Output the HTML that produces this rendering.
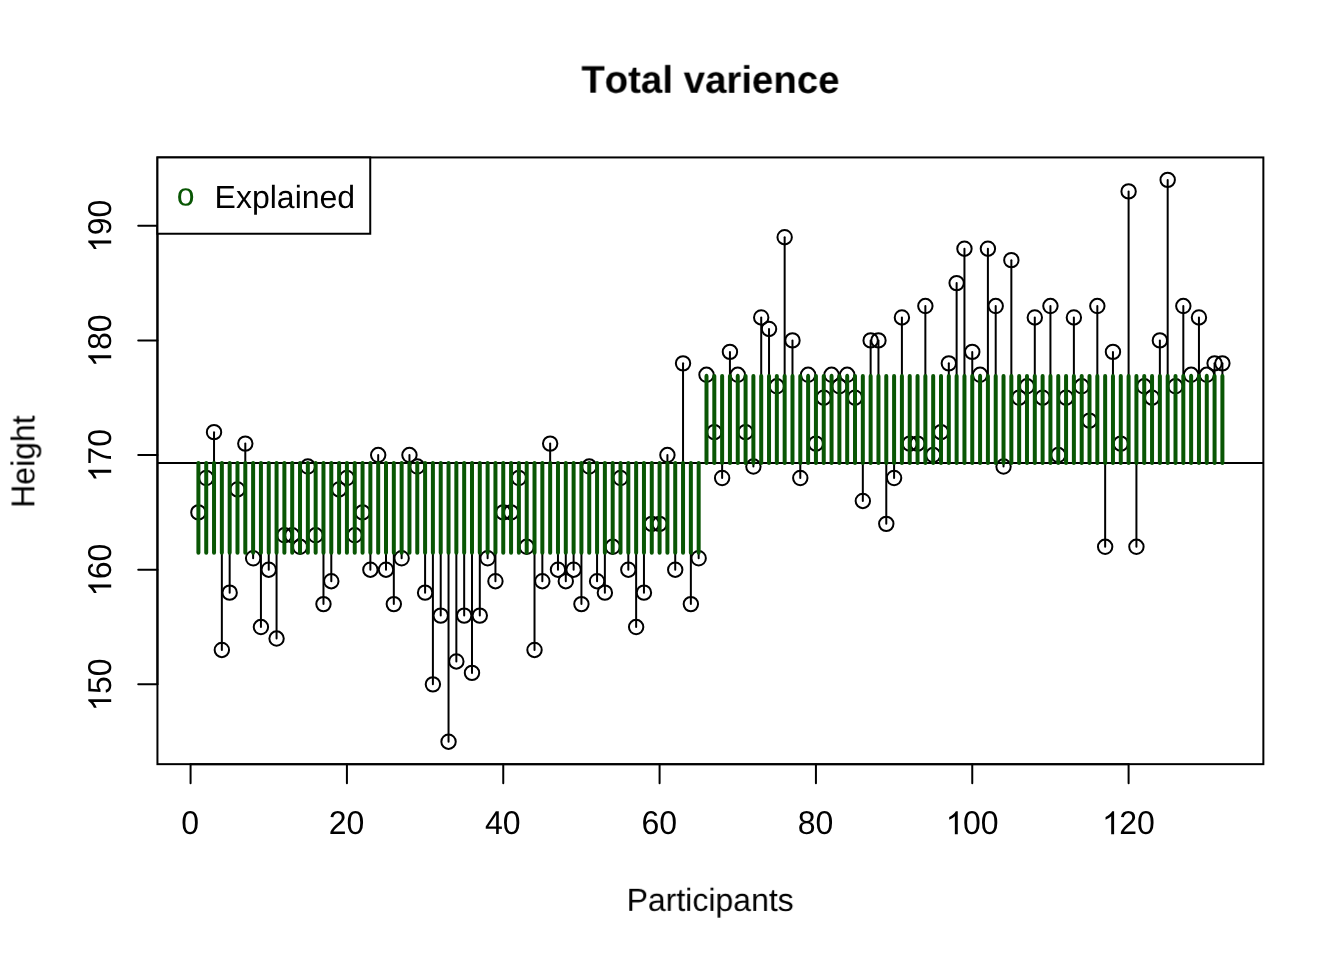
<!DOCTYPE html>
<html><head><meta charset="utf-8"><title>Total varience</title>
<style>html,body{margin:0;padding:0;background:#fff}svg{display:block}text{font-family:"Liberation Sans",sans-serif;fill:#000;font-kerning:none;font-variant-ligatures:none;text-rendering:geometricPrecision}</style></head>
<body>
<svg width="1344" height="960" viewBox="0 0 1344 960">
<rect width="1344" height="960" fill="#fff"/>
<g fill="none" stroke="#000" stroke-width="2">
<circle cx="198.4" cy="512.39" r="7.2"/>
<circle cx="206.22" cy="478" r="7.2"/>
<circle cx="214.03" cy="432.14" r="7.2"/>
<circle cx="221.85" cy="649.97" r="7.2"/>
<circle cx="229.67" cy="592.65" r="7.2"/>
<circle cx="237.48" cy="489.46" r="7.2"/>
<circle cx="245.3" cy="443.6" r="7.2"/>
<circle cx="253.12" cy="558.25" r="7.2"/>
<circle cx="260.93" cy="627.04" r="7.2"/>
<circle cx="268.75" cy="569.72" r="7.2"/>
<circle cx="276.57" cy="638.51" r="7.2"/>
<circle cx="284.38" cy="535.32" r="7.2"/>
<circle cx="292.2" cy="535.32" r="7.2"/>
<circle cx="300.02" cy="546.79" r="7.2"/>
<circle cx="307.84" cy="466.53" r="7.2"/>
<circle cx="315.65" cy="535.32" r="7.2"/>
<circle cx="323.47" cy="604.11" r="7.2"/>
<circle cx="331.29" cy="581.18" r="7.2"/>
<circle cx="339.1" cy="489.46" r="7.2"/>
<circle cx="346.92" cy="478" r="7.2"/>
<circle cx="354.74" cy="535.32" r="7.2"/>
<circle cx="362.55" cy="512.39" r="7.2"/>
<circle cx="370.37" cy="569.72" r="7.2"/>
<circle cx="378.19" cy="455.07" r="7.2"/>
<circle cx="386" cy="569.72" r="7.2"/>
<circle cx="393.82" cy="604.11" r="7.2"/>
<circle cx="401.64" cy="558.25" r="7.2"/>
<circle cx="409.45" cy="455.07" r="7.2"/>
<circle cx="417.27" cy="466.53" r="7.2"/>
<circle cx="425.09" cy="592.65" r="7.2"/>
<circle cx="432.9" cy="684.36" r="7.2"/>
<circle cx="440.72" cy="615.58" r="7.2"/>
<circle cx="448.54" cy="741.69" r="7.2"/>
<circle cx="456.35" cy="661.43" r="7.2"/>
<circle cx="464.17" cy="615.58" r="7.2"/>
<circle cx="471.99" cy="672.9" r="7.2"/>
<circle cx="479.8" cy="615.58" r="7.2"/>
<circle cx="487.62" cy="558.25" r="7.2"/>
<circle cx="495.44" cy="581.18" r="7.2"/>
<circle cx="503.25" cy="512.39" r="7.2"/>
<circle cx="511.07" cy="512.39" r="7.2"/>
<circle cx="518.89" cy="478" r="7.2"/>
<circle cx="526.71" cy="546.79" r="7.2"/>
<circle cx="534.52" cy="649.97" r="7.2"/>
<circle cx="542.34" cy="581.18" r="7.2"/>
<circle cx="550.16" cy="443.6" r="7.2"/>
<circle cx="557.97" cy="569.72" r="7.2"/>
<circle cx="565.79" cy="581.18" r="7.2"/>
<circle cx="573.61" cy="569.72" r="7.2"/>
<circle cx="581.42" cy="604.11" r="7.2"/>
<circle cx="589.24" cy="466.53" r="7.2"/>
<circle cx="597.06" cy="581.18" r="7.2"/>
<circle cx="604.87" cy="592.65" r="7.2"/>
<circle cx="612.69" cy="546.79" r="7.2"/>
<circle cx="620.51" cy="478" r="7.2"/>
<circle cx="628.32" cy="569.72" r="7.2"/>
<circle cx="636.14" cy="627.04" r="7.2"/>
<circle cx="643.96" cy="592.65" r="7.2"/>
<circle cx="651.77" cy="523.86" r="7.2"/>
<circle cx="659.59" cy="523.86" r="7.2"/>
<circle cx="667.41" cy="455.07" r="7.2"/>
<circle cx="675.22" cy="569.72" r="7.2"/>
<circle cx="683.04" cy="363.35" r="7.2"/>
<circle cx="690.86" cy="604.11" r="7.2"/>
<circle cx="698.67" cy="558.25" r="7.2"/>
<circle cx="706.49" cy="374.81" r="7.2"/>
<circle cx="714.31" cy="432.14" r="7.2"/>
<circle cx="722.13" cy="478" r="7.2"/>
<circle cx="729.94" cy="351.88" r="7.2"/>
<circle cx="737.76" cy="374.81" r="7.2"/>
<circle cx="745.58" cy="432.14" r="7.2"/>
<circle cx="753.39" cy="466.53" r="7.2"/>
<circle cx="761.21" cy="317.49" r="7.2"/>
<circle cx="769.03" cy="328.95" r="7.2"/>
<circle cx="776.84" cy="386.28" r="7.2"/>
<circle cx="784.66" cy="237.24" r="7.2"/>
<circle cx="792.48" cy="340.42" r="7.2"/>
<circle cx="800.29" cy="478" r="7.2"/>
<circle cx="808.11" cy="374.81" r="7.2"/>
<circle cx="815.93" cy="443.6" r="7.2"/>
<circle cx="823.74" cy="397.74" r="7.2"/>
<circle cx="831.56" cy="374.81" r="7.2"/>
<circle cx="839.38" cy="386.28" r="7.2"/>
<circle cx="847.19" cy="374.81" r="7.2"/>
<circle cx="855.01" cy="397.74" r="7.2"/>
<circle cx="862.83" cy="500.93" r="7.2"/>
<circle cx="870.64" cy="340.42" r="7.2"/>
<circle cx="878.46" cy="340.42" r="7.2"/>
<circle cx="886.28" cy="523.86" r="7.2"/>
<circle cx="894.09" cy="478" r="7.2"/>
<circle cx="901.91" cy="317.49" r="7.2"/>
<circle cx="909.73" cy="443.6" r="7.2"/>
<circle cx="917.55" cy="443.6" r="7.2"/>
<circle cx="925.36" cy="306.02" r="7.2"/>
<circle cx="933.18" cy="455.07" r="7.2"/>
<circle cx="941" cy="432.14" r="7.2"/>
<circle cx="948.81" cy="363.35" r="7.2"/>
<circle cx="956.63" cy="283.09" r="7.2"/>
<circle cx="964.45" cy="248.7" r="7.2"/>
<circle cx="972.26" cy="351.88" r="7.2"/>
<circle cx="980.08" cy="374.81" r="7.2"/>
<circle cx="987.9" cy="248.7" r="7.2"/>
<circle cx="995.71" cy="306.02" r="7.2"/>
<circle cx="1003.53" cy="466.53" r="7.2"/>
<circle cx="1011.35" cy="260.17" r="7.2"/>
<circle cx="1019.16" cy="397.74" r="7.2"/>
<circle cx="1026.98" cy="386.28" r="7.2"/>
<circle cx="1034.8" cy="317.49" r="7.2"/>
<circle cx="1042.61" cy="397.74" r="7.2"/>
<circle cx="1050.43" cy="306.02" r="7.2"/>
<circle cx="1058.25" cy="455.07" r="7.2"/>
<circle cx="1066.06" cy="397.74" r="7.2"/>
<circle cx="1073.88" cy="317.49" r="7.2"/>
<circle cx="1081.7" cy="386.28" r="7.2"/>
<circle cx="1089.51" cy="420.67" r="7.2"/>
<circle cx="1097.33" cy="306.02" r="7.2"/>
<circle cx="1105.15" cy="546.79" r="7.2"/>
<circle cx="1112.96" cy="351.88" r="7.2"/>
<circle cx="1120.78" cy="443.6" r="7.2"/>
<circle cx="1128.6" cy="191.38" r="7.2"/>
<circle cx="1136.42" cy="546.79" r="7.2"/>
<circle cx="1144.23" cy="386.28" r="7.2"/>
<circle cx="1152.05" cy="397.74" r="7.2"/>
<circle cx="1159.87" cy="340.42" r="7.2"/>
<circle cx="1167.68" cy="179.91" r="7.2"/>
<circle cx="1175.5" cy="386.28" r="7.2"/>
<circle cx="1183.32" cy="306.02" r="7.2"/>
<circle cx="1191.13" cy="374.81" r="7.2"/>
<circle cx="1198.95" cy="317.49" r="7.2"/>
<circle cx="1206.77" cy="374.81" r="7.2"/>
<circle cx="1214.58" cy="363.35" r="7.2"/>
<circle cx="1222.4" cy="363.35" r="7.2"/>
</g>
<g fill="none" stroke="#000" stroke-width="2" stroke-linecap="round">
<path d="M190.58 764.16H1128.6"/>
<path d="M190.58 764.16v19.2"/>
<path d="M346.92 764.16v19.2"/>
<path d="M503.25 764.16v19.2"/>
<path d="M659.59 764.16v19.2"/>
<path d="M815.93 764.16v19.2"/>
<path d="M972.26 764.16v19.2"/>
<path d="M1128.6 764.16v19.2"/>
<path d="M157.44 684.36V225.77"/>
<path d="M157.44 684.36h-19.2"/>
<path d="M157.44 569.72h-19.2"/>
<path d="M157.44 455.07h-19.2"/>
<path d="M157.44 340.42h-19.2"/>
<path d="M157.44 225.77h-19.2"/>
<rect x="157.44" y="157.44" width="1105.92" height="606.72"/>
<path d="M157.44 463.06H1263.36" stroke-linecap="butt"/>
<path d="M198.4 463.06V512.39"/>
<path d="M206.22 463.06V478"/>
<path d="M214.03 463.06V432.14"/>
<path d="M221.85 463.06V649.97"/>
<path d="M229.67 463.06V592.65"/>
<path d="M237.48 463.06V489.46"/>
<path d="M245.3 463.06V443.6"/>
<path d="M253.12 463.06V558.25"/>
<path d="M260.93 463.06V627.04"/>
<path d="M268.75 463.06V569.72"/>
<path d="M276.57 463.06V638.51"/>
<path d="M284.38 463.06V535.32"/>
<path d="M292.2 463.06V535.32"/>
<path d="M300.02 463.06V546.79"/>
<path d="M307.84 463.06V466.53"/>
<path d="M315.65 463.06V535.32"/>
<path d="M323.47 463.06V604.11"/>
<path d="M331.29 463.06V581.18"/>
<path d="M339.1 463.06V489.46"/>
<path d="M346.92 463.06V478"/>
<path d="M354.74 463.06V535.32"/>
<path d="M362.55 463.06V512.39"/>
<path d="M370.37 463.06V569.72"/>
<path d="M378.19 463.06V455.07"/>
<path d="M386 463.06V569.72"/>
<path d="M393.82 463.06V604.11"/>
<path d="M401.64 463.06V558.25"/>
<path d="M409.45 463.06V455.07"/>
<path d="M417.27 463.06V466.53"/>
<path d="M425.09 463.06V592.65"/>
<path d="M432.9 463.06V684.36"/>
<path d="M440.72 463.06V615.58"/>
<path d="M448.54 463.06V741.69"/>
<path d="M456.35 463.06V661.43"/>
<path d="M464.17 463.06V615.58"/>
<path d="M471.99 463.06V672.9"/>
<path d="M479.8 463.06V615.58"/>
<path d="M487.62 463.06V558.25"/>
<path d="M495.44 463.06V581.18"/>
<path d="M503.25 463.06V512.39"/>
<path d="M511.07 463.06V512.39"/>
<path d="M518.89 463.06V478"/>
<path d="M526.71 463.06V546.79"/>
<path d="M534.52 463.06V649.97"/>
<path d="M542.34 463.06V581.18"/>
<path d="M550.16 463.06V443.6"/>
<path d="M557.97 463.06V569.72"/>
<path d="M565.79 463.06V581.18"/>
<path d="M573.61 463.06V569.72"/>
<path d="M581.42 463.06V604.11"/>
<path d="M589.24 463.06V466.53"/>
<path d="M597.06 463.06V581.18"/>
<path d="M604.87 463.06V592.65"/>
<path d="M612.69 463.06V546.79"/>
<path d="M620.51 463.06V478"/>
<path d="M628.32 463.06V569.72"/>
<path d="M636.14 463.06V627.04"/>
<path d="M643.96 463.06V592.65"/>
<path d="M651.77 463.06V523.86"/>
<path d="M659.59 463.06V523.86"/>
<path d="M667.41 463.06V455.07"/>
<path d="M675.22 463.06V569.72"/>
<path d="M683.04 463.06V363.35"/>
<path d="M690.86 463.06V604.11"/>
<path d="M698.67 463.06V558.25"/>
<path d="M706.49 463.06V374.81"/>
<path d="M714.31 463.06V432.14"/>
<path d="M722.13 463.06V478"/>
<path d="M729.94 463.06V351.88"/>
<path d="M737.76 463.06V374.81"/>
<path d="M745.58 463.06V432.14"/>
<path d="M753.39 463.06V466.53"/>
<path d="M761.21 463.06V317.49"/>
<path d="M769.03 463.06V328.95"/>
<path d="M776.84 463.06V386.28"/>
<path d="M784.66 463.06V237.24"/>
<path d="M792.48 463.06V340.42"/>
<path d="M800.29 463.06V478"/>
<path d="M808.11 463.06V374.81"/>
<path d="M815.93 463.06V443.6"/>
<path d="M823.74 463.06V397.74"/>
<path d="M831.56 463.06V374.81"/>
<path d="M839.38 463.06V386.28"/>
<path d="M847.19 463.06V374.81"/>
<path d="M855.01 463.06V397.74"/>
<path d="M862.83 463.06V500.93"/>
<path d="M870.64 463.06V340.42"/>
<path d="M878.46 463.06V340.42"/>
<path d="M886.28 463.06V523.86"/>
<path d="M894.09 463.06V478"/>
<path d="M901.91 463.06V317.49"/>
<path d="M909.73 463.06V443.6"/>
<path d="M917.55 463.06V443.6"/>
<path d="M925.36 463.06V306.02"/>
<path d="M933.18 463.06V455.07"/>
<path d="M941 463.06V432.14"/>
<path d="M948.81 463.06V363.35"/>
<path d="M956.63 463.06V283.09"/>
<path d="M964.45 463.06V248.7"/>
<path d="M972.26 463.06V351.88"/>
<path d="M980.08 463.06V374.81"/>
<path d="M987.9 463.06V248.7"/>
<path d="M995.71 463.06V306.02"/>
<path d="M1003.53 463.06V466.53"/>
<path d="M1011.35 463.06V260.17"/>
<path d="M1019.16 463.06V397.74"/>
<path d="M1026.98 463.06V386.28"/>
<path d="M1034.8 463.06V317.49"/>
<path d="M1042.61 463.06V397.74"/>
<path d="M1050.43 463.06V306.02"/>
<path d="M1058.25 463.06V455.07"/>
<path d="M1066.06 463.06V397.74"/>
<path d="M1073.88 463.06V317.49"/>
<path d="M1081.7 463.06V386.28"/>
<path d="M1089.51 463.06V420.67"/>
<path d="M1097.33 463.06V306.02"/>
<path d="M1105.15 463.06V546.79"/>
<path d="M1112.96 463.06V351.88"/>
<path d="M1120.78 463.06V443.6"/>
<path d="M1128.6 463.06V191.38"/>
<path d="M1136.42 463.06V546.79"/>
<path d="M1144.23 463.06V386.28"/>
<path d="M1152.05 463.06V397.74"/>
<path d="M1159.87 463.06V340.42"/>
<path d="M1167.68 463.06V179.91"/>
<path d="M1175.5 463.06V386.28"/>
<path d="M1183.32 463.06V306.02"/>
<path d="M1191.13 463.06V374.81"/>
<path d="M1198.95 463.06V317.49"/>
<path d="M1206.77 463.06V374.81"/>
<path d="M1214.58 463.06V363.35"/>
<path d="M1222.4 463.06V363.35"/>
</g>
<g fill="none" stroke="#095604" stroke-width="4" stroke-linecap="round">
<path d="M198.4 463.06V552.78"/>
<path d="M206.22 463.06V552.78"/>
<path d="M214.03 463.06V552.78"/>
<path d="M221.85 463.06V552.78"/>
<path d="M229.67 463.06V552.78"/>
<path d="M237.48 463.06V552.78"/>
<path d="M245.3 463.06V552.78"/>
<path d="M253.12 463.06V552.78"/>
<path d="M260.93 463.06V552.78"/>
<path d="M268.75 463.06V552.78"/>
<path d="M276.57 463.06V552.78"/>
<path d="M284.38 463.06V552.78"/>
<path d="M292.2 463.06V552.78"/>
<path d="M300.02 463.06V552.78"/>
<path d="M307.84 463.06V552.78"/>
<path d="M315.65 463.06V552.78"/>
<path d="M323.47 463.06V552.78"/>
<path d="M331.29 463.06V552.78"/>
<path d="M339.1 463.06V552.78"/>
<path d="M346.92 463.06V552.78"/>
<path d="M354.74 463.06V552.78"/>
<path d="M362.55 463.06V552.78"/>
<path d="M370.37 463.06V552.78"/>
<path d="M378.19 463.06V552.78"/>
<path d="M386 463.06V552.78"/>
<path d="M393.82 463.06V552.78"/>
<path d="M401.64 463.06V552.78"/>
<path d="M409.45 463.06V552.78"/>
<path d="M417.27 463.06V552.78"/>
<path d="M425.09 463.06V552.78"/>
<path d="M432.9 463.06V552.78"/>
<path d="M440.72 463.06V552.78"/>
<path d="M448.54 463.06V552.78"/>
<path d="M456.35 463.06V552.78"/>
<path d="M464.17 463.06V552.78"/>
<path d="M471.99 463.06V552.78"/>
<path d="M479.8 463.06V552.78"/>
<path d="M487.62 463.06V552.78"/>
<path d="M495.44 463.06V552.78"/>
<path d="M503.25 463.06V552.78"/>
<path d="M511.07 463.06V552.78"/>
<path d="M518.89 463.06V552.78"/>
<path d="M526.71 463.06V552.78"/>
<path d="M534.52 463.06V552.78"/>
<path d="M542.34 463.06V552.78"/>
<path d="M550.16 463.06V552.78"/>
<path d="M557.97 463.06V552.78"/>
<path d="M565.79 463.06V552.78"/>
<path d="M573.61 463.06V552.78"/>
<path d="M581.42 463.06V552.78"/>
<path d="M589.24 463.06V552.78"/>
<path d="M597.06 463.06V552.78"/>
<path d="M604.87 463.06V552.78"/>
<path d="M612.69 463.06V552.78"/>
<path d="M620.51 463.06V552.78"/>
<path d="M628.32 463.06V552.78"/>
<path d="M636.14 463.06V552.78"/>
<path d="M643.96 463.06V552.78"/>
<path d="M651.77 463.06V552.78"/>
<path d="M659.59 463.06V552.78"/>
<path d="M667.41 463.06V552.78"/>
<path d="M675.22 463.06V552.78"/>
<path d="M683.04 463.06V552.78"/>
<path d="M690.86 463.06V552.78"/>
<path d="M698.67 463.06V552.78"/>
<path d="M706.49 463.06V376.01"/>
<path d="M714.31 463.06V376.01"/>
<path d="M722.13 463.06V376.01"/>
<path d="M729.94 463.06V376.01"/>
<path d="M737.76 463.06V376.01"/>
<path d="M745.58 463.06V376.01"/>
<path d="M753.39 463.06V376.01"/>
<path d="M761.21 463.06V376.01"/>
<path d="M769.03 463.06V376.01"/>
<path d="M776.84 463.06V376.01"/>
<path d="M784.66 463.06V376.01"/>
<path d="M792.48 463.06V376.01"/>
<path d="M800.29 463.06V376.01"/>
<path d="M808.11 463.06V376.01"/>
<path d="M815.93 463.06V376.01"/>
<path d="M823.74 463.06V376.01"/>
<path d="M831.56 463.06V376.01"/>
<path d="M839.38 463.06V376.01"/>
<path d="M847.19 463.06V376.01"/>
<path d="M855.01 463.06V376.01"/>
<path d="M862.83 463.06V376.01"/>
<path d="M870.64 463.06V376.01"/>
<path d="M878.46 463.06V376.01"/>
<path d="M886.28 463.06V376.01"/>
<path d="M894.09 463.06V376.01"/>
<path d="M901.91 463.06V376.01"/>
<path d="M909.73 463.06V376.01"/>
<path d="M917.55 463.06V376.01"/>
<path d="M925.36 463.06V376.01"/>
<path d="M933.18 463.06V376.01"/>
<path d="M941 463.06V376.01"/>
<path d="M948.81 463.06V376.01"/>
<path d="M956.63 463.06V376.01"/>
<path d="M964.45 463.06V376.01"/>
<path d="M972.26 463.06V376.01"/>
<path d="M980.08 463.06V376.01"/>
<path d="M987.9 463.06V376.01"/>
<path d="M995.71 463.06V376.01"/>
<path d="M1003.53 463.06V376.01"/>
<path d="M1011.35 463.06V376.01"/>
<path d="M1019.16 463.06V376.01"/>
<path d="M1026.98 463.06V376.01"/>
<path d="M1034.8 463.06V376.01"/>
<path d="M1042.61 463.06V376.01"/>
<path d="M1050.43 463.06V376.01"/>
<path d="M1058.25 463.06V376.01"/>
<path d="M1066.06 463.06V376.01"/>
<path d="M1073.88 463.06V376.01"/>
<path d="M1081.7 463.06V376.01"/>
<path d="M1089.51 463.06V376.01"/>
<path d="M1097.33 463.06V376.01"/>
<path d="M1105.15 463.06V376.01"/>
<path d="M1112.96 463.06V376.01"/>
<path d="M1120.78 463.06V376.01"/>
<path d="M1128.6 463.06V376.01"/>
<path d="M1136.42 463.06V376.01"/>
<path d="M1144.23 463.06V376.01"/>
<path d="M1152.05 463.06V376.01"/>
<path d="M1159.87 463.06V376.01"/>
<path d="M1167.68 463.06V376.01"/>
<path d="M1175.5 463.06V376.01"/>
<path d="M1183.32 463.06V376.01"/>
<path d="M1191.13 463.06V376.01"/>
<path d="M1198.95 463.06V376.01"/>
<path d="M1206.77 463.06V376.01"/>
<path d="M1214.58 463.06V376.01"/>
<path d="M1222.4 463.06V376.01"/>
</g>
<rect x="157.44" y="157.44" width="212.8" height="76.3" fill="#fff" stroke="#000" stroke-width="2"/>
<g opacity="0.999">
<text transform="translate(185.7 205.4) rotate(0.05)" font-size="32" text-anchor="middle" style="fill:#095604">o</text>
<text transform="translate(214.6 208) rotate(0.05)" font-size="32" text-anchor="start">Explained</text>
<text transform="translate(710.4 92.8) rotate(0.05)" font-size="38.4" text-anchor="middle" font-weight="bold">Total varience</text>
<text transform="translate(710.2 910.9) rotate(0.05)" font-size="32" text-anchor="middle">Participants</text>
<text transform="translate(34.3 461.6) rotate(-89.95) scale(1 1.03)" font-size="32" text-anchor="middle">Height</text>
<g transform="translate(190.18 834.2)"><text transform="translate(0 -0.25) rotate(0.05) scale(1.0 1.03)" x="-8.9" y="0" font-size="32">0</text></g>
<g transform="translate(346.52 834.2)"><text transform="translate(0 -0.25) rotate(0.05) scale(1.0 1.03)" x="-17.8" y="0" font-size="32">20</text></g>
<g transform="translate(502.85 834.2)"><text transform="translate(0 -0.25) rotate(0.05) scale(1.0 1.03)" x="-17.8" y="0" font-size="32">40</text></g>
<g transform="translate(659.19 834.2)"><text transform="translate(0 -0.25) rotate(0.05) scale(1.0 1.03)" x="-17.8" y="0" font-size="32">60</text></g>
<g transform="translate(815.53 834.2)"><text transform="translate(0 -0.25) rotate(0.05) scale(1.0 1.03)" x="-17.8" y="0" font-size="32">80</text></g>
<g transform="translate(971.86 834.2)"><path transform="translate(-26.2 0) scale(0.015625 -0.015625)" d="M775 0H588V1147Q523 1085 417.5 1023T228 930V1104Q379 1175 492 1276T652 1466H775Z"/><text transform="translate(8.9 -0.25) rotate(0.05) scale(1.0 1.03)" x="-17.8" y="0" font-size="32">00</text></g>
<g transform="translate(1128.2 834.2)"><path transform="translate(-26.2 0) scale(0.015625 -0.015625)" d="M775 0H588V1147Q523 1085 417.5 1023T228 930V1104Q379 1175 492 1276T652 1466H775Z"/><text transform="translate(8.9 -0.25) rotate(0.05) scale(1.0 1.03)" x="-17.8" y="0" font-size="32">20</text></g>
<g transform="translate(111.2 685.06) rotate(-90)"><path transform="translate(-26.2 0) scale(0.015625 -0.015625)" d="M775 0H588V1147Q523 1085 417.5 1023T228 930V1104Q379 1175 492 1276T652 1466H775Z"/><text transform="translate(8.9 -0.25) rotate(0.05) scale(1.0 1.03)" x="-17.8" y="0" font-size="32">50</text></g>
<g transform="translate(111.2 570.42) rotate(-90)"><path transform="translate(-26.2 0) scale(0.015625 -0.015625)" d="M775 0H588V1147Q523 1085 417.5 1023T228 930V1104Q379 1175 492 1276T652 1466H775Z"/><text transform="translate(8.9 -0.25) rotate(0.05) scale(1.0 1.03)" x="-17.8" y="0" font-size="32">60</text></g>
<g transform="translate(111.2 455.77) rotate(-90)"><path transform="translate(-26.2 0) scale(0.015625 -0.015625)" d="M775 0H588V1147Q523 1085 417.5 1023T228 930V1104Q379 1175 492 1276T652 1466H775Z"/><text transform="translate(8.9 -0.25) rotate(0.05) scale(1.0 1.03)" x="-17.8" y="0" font-size="32">70</text></g>
<g transform="translate(111.2 341.12) rotate(-90)"><path transform="translate(-26.2 0) scale(0.015625 -0.015625)" d="M775 0H588V1147Q523 1085 417.5 1023T228 930V1104Q379 1175 492 1276T652 1466H775Z"/><text transform="translate(8.9 -0.25) rotate(0.05) scale(1.0 1.03)" x="-17.8" y="0" font-size="32">80</text></g>
<g transform="translate(111.2 226.47) rotate(-90)"><path transform="translate(-26.2 0) scale(0.015625 -0.015625)" d="M775 0H588V1147Q523 1085 417.5 1023T228 930V1104Q379 1175 492 1276T652 1466H775Z"/><text transform="translate(8.9 -0.25) rotate(0.05) scale(1.0 1.03)" x="-17.8" y="0" font-size="32">90</text></g>
</g>
</svg></body></html>
